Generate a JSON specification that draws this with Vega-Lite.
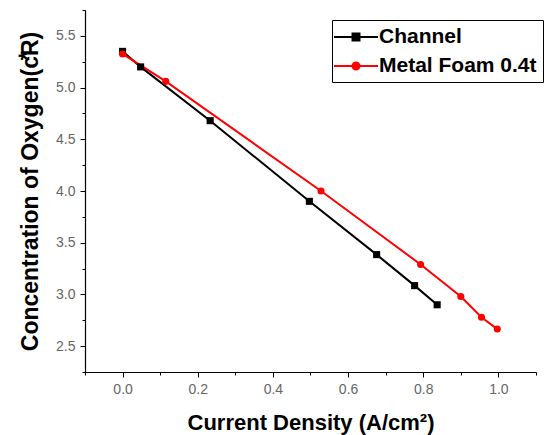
{
  "$schema": "https://vega.github.io/schema/vega-lite/v6.json",
  "width": 451,
  "height": 362,
  "autosize": {"type": "none"},
  "padding": {"left": 85, "top": 10, "right": 18, "bottom": 63},
  "background": "white",
  "config": {
    "view": {"stroke": null},
    "font": "Liberation Sans"
  },
  "data": {
    "values": [
      {"series": "Channel", "x": 0.0, "y": 5.35},
      {"series": "Channel", "x": 0.048, "y": 5.2},
      {"series": "Channel", "x": 0.233, "y": 4.68},
      {"series": "Channel", "x": 0.497, "y": 3.9},
      {"series": "Channel", "x": 0.676, "y": 3.385},
      {"series": "Channel", "x": 0.777, "y": 3.085},
      {"series": "Channel", "x": 0.837, "y": 2.9},
      {"series": "Metal Foam 0.4t", "x": 0.0, "y": 5.325},
      {"series": "Metal Foam 0.4t", "x": 0.115, "y": 5.06},
      {"series": "Metal Foam 0.4t", "x": 0.528, "y": 4.0},
      {"series": "Metal Foam 0.4t", "x": 0.793, "y": 3.29},
      {"series": "Metal Foam 0.4t", "x": 0.9, "y": 2.98},
      {"series": "Metal Foam 0.4t", "x": 0.955, "y": 2.78},
      {"series": "Metal Foam 0.4t", "x": 0.997, "y": 2.665}
    ]
  },
  "encoding": {
    "x": {
      "field": "x", "type": "quantitative",
      "scale": {"domain": [-0.1, 1.1], "nice": false, "zero": false},
      "axis": {
        "title": "Current Density (A/cm²)",
        "values": [-0.1, 0, 0.1, 0.2, 0.3, 0.4, 0.5, 0.6, 0.7, 0.8, 0.9, 1.0, 1.1],
        "labelExpr": "abs(datum.value*5 - round(datum.value*5)) < 0.001 ? format(datum.value, '.1f') : ''",
        "grid": false,
        "domainColor": "#000", "domainWidth": 1.2,
        "tickColor": "#000",
        "tickSize": {"condition": {"test": "abs(datum.value*5 - round(datum.value*5)) < 0.001", "value": 5}, "value": 3},
        "labelColor": "#666", "labelFontSize": 14, "labelPadding": 5,
        "titleFontSize": 22, "titleFontWeight": "bold", "titleColor": "#000", "titlePadding": 16
      }
    },
    "y": {
      "field": "y", "type": "quantitative",
      "scale": {"domain": [2.25, 5.75], "nice": false, "zero": false},
      "axis": {
        "title": "Concentration of Oxygen(c⃰R)",
        "values": [2.25, 2.5, 2.75, 3.0, 3.25, 3.5, 3.75, 4.0, 4.25, 4.5, 4.75, 5.0, 5.25, 5.5, 5.75],
        "labelExpr": "abs(datum.value*2 - round(datum.value*2)) < 0.001 ? format(datum.value, '.1f') : ''",
        "grid": false,
        "domainColor": "#000", "domainWidth": 1.2,
        "tickColor": "#000",
        "tickSize": {"condition": {"test": "abs(datum.value*2 - round(datum.value*2)) < 0.001", "value": 5}, "value": 3},
        "labelColor": "#666", "labelFontSize": 14, "labelPadding": 5,
        "titleFontSize": 23, "titleFontWeight": "bold", "titleColor": "#000", "titlePadding": 13
      }
    }
  },
  "layer": [
    {
      "mark": {"type": "line", "strokeWidth": 2},
      "encoding": {
        "order": {"field": "x", "type": "quantitative"},
        "color": {
          "field": "series", "type": "nominal",
          "scale": {"domain": ["Channel", "Metal Foam 0.4t"], "range": ["#000000", "#ff0000"]},
          "legend": {
            "title": null,
            "orient": "none",
            "legendX": 247,
            "legendY": 10,
            "strokeColor": "#000",
            "padding": 6,
            "labelFontSize": 21,
            "labelFontWeight": "bold",
            "labelColor": "#000",
            "symbolSize": 400,
            "symbolStrokeWidth": 2,
            "rowPadding": 8,
            "labelOffset": 19,
            "encode": {
              "symbols": {
                "update": {
                  "shape": {"signal": "datum.value == 'Channel' ? 'M-1.5,0H2.9M0.35,-0.35H1.05V0.35H0.35Z' : 'M-1.5,0H2.9M1.05,0A0.35,0.35,0,1,1,0.35,0A0.35,0.35,0,1,1,1.05,0Z'"},
                  "stroke": {"signal": "scale('color', datum.value)"},
                  "fill": {"signal": "scale('color', datum.value)"},
                  "strokeWidth": {"value": 2}
                }
              }
            }
          }
        }
      }
    },
    {
      "mark": {"type": "point", "filled": true, "opacity": 1, "size": 50},
      "encoding": {
        "color": {"field": "series", "type": "nominal", "legend": null},
        "shape": {"field": "series", "type": "nominal", "scale": {"domain": ["Channel", "Metal Foam 0.4t"], "range": ["square", "circle"]}, "legend": null}
      }
    }
  ],
  "resolve": {"legend": {"color": "independent", "shape": "independent"}}
}
